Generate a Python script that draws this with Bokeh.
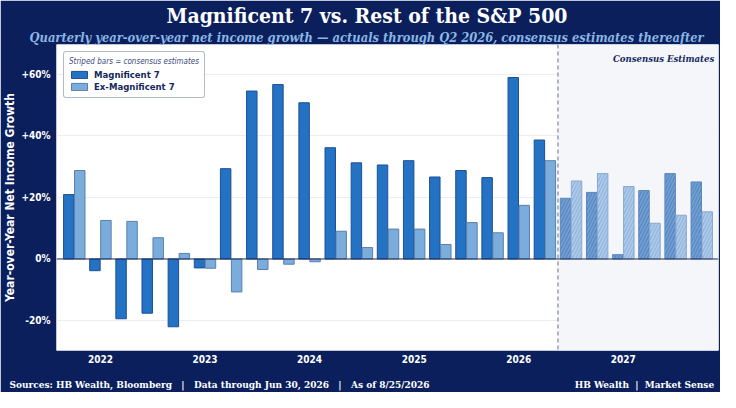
from bokeh.plotting import figure
from bokeh.models import (ColumnDataSource, Range1d, FixedTicker, Span, BoxAnnotation,
                          Label, Legend, LegendItem, Title, LinearAxis)
from bokeh.transform import dodge
from bokeh.embed import file_html
from bokeh.resources import INLINE

# Quarterly YoY net income growth (%), actuals through Q2 2026, estimates after
quarters = ["Q4 2021",
            "Q1 2022", "Q2 2022", "Q3 2022", "Q4 2022",
            "Q1 2023", "Q2 2023", "Q3 2023", "Q4 2023",
            "Q1 2024", "Q2 2024", "Q3 2024", "Q4 2024",
            "Q1 2025", "Q2 2025", "Q3 2025", "Q4 2025",
            "Q1 2026", "Q2 2026", "Q3 2026", "Q4 2026",
            "Q1 2027", "Q2 2027", "Q3 2027", "Q4 2027"]
mag7 = [20.9, -3.8, -19.4, -17.6, -22.0, -2.9, 29.3, 54.5, 56.6, 50.7, 36.1, 31.2, 30.5,
        31.9, 26.6, 28.7, 26.4, 58.9, 38.6, 19.7, 21.6, 1.4, 22.2, 27.7, 25.0]
ex_mag7 = [28.7, 12.5, 12.2, 6.9, 1.8, -3.0, -10.7, -3.4, -1.7, -0.9, 9.0, 3.7, 9.7,
           9.7, 4.7, 11.8, 8.5, 17.4, 31.9, 25.3, 27.7, 23.5, 11.6, 14.2, 15.3]
n_actual = 19  # Q4 2021 .. Q2 2026
y_ticks = [-20, 0, 20, 40, 60]

NAVY = "#0b1f5c"
MAG = "#2372c4"
EX = "#7aaddb"
SANS = "DejaVu Sans Condensed"
SERIF = "DejaVu Serif Condensed"
SEP = "\u00a0\u00a0\u00a0|\u00a0\u00a0\u00a0"

pos = list(range(len(quarters)))
year_ticks = [i for i, q in enumerate(quarters) if q.startswith("Q1")]
year_labels = {i: quarters[i].split()[1] for i in year_ticks}

act = ColumnDataSource(dict(x=pos[:n_actual], mag=mag7[:n_actual], ex=ex_mag7[:n_actual]))
est = ColumnDataSource(dict(x=pos[n_actual:], mag=mag7[n_actual:], ex=ex_mag7[n_actual:]))

FW = 720 - 56 - 2
p = figure(width=720, height=392, output_backend="svg", toolbar_location=None,
           x_range=Range1d(-0.68, len(quarters) - 0.36), y_range=Range1d(-29.7, 69.6),
           min_border_left=56, min_border_right=2, min_border_top=0, min_border_bottom=0)
p.border_fill_color = NAVY
p.background_fill_color = "white"
p.outline_line_color = None

# estimate zone
p.add_layout(BoxAnnotation(left=n_actual - 0.5, fill_color="#f5f6f9", fill_alpha=1,
                           line_color=None, level="underlay"))

p.xgrid.grid_line_color = None
p.ygrid.grid_line_color = "#ececf1"
p.ygrid.ticker = FixedTicker(ticks=y_ticks)

off, w = 0.21, 0.4
r_mag = p.vbar(x=dodge("x", -off), top="mag", source=act, width=w, fill_color=MAG,
               line_color="#1d4f94", line_width=1)
r_ex = p.vbar(x=dodge("x", off), top="ex", source=act, width=w, fill_color=EX,
              line_color="#5b7fae", line_width=1)
p.vbar(x=dodge("x", -off), top="mag", source=est, width=w, fill_color="#74a3d7",
       line_color="#5d86bd", line_width=1, hatch_pattern="/", hatch_color="#34609e",
       hatch_scale=6.5, hatch_weight=0.8, hatch_alpha=0.85)
p.vbar(x=dodge("x", off), top="ex", source=est, width=w, fill_color="#b2cdeb",
       line_color="#86a8d3", line_width=1, hatch_pattern="/", hatch_color="#6a94c9",
       hatch_scale=6.5, hatch_weight=0.8, hatch_alpha=0.85)

p.add_layout(Span(location=0, dimension="width", line_color="#1e2b55", line_width=1.2))
p.add_layout(Span(location=n_actual - 0.5, dimension="height", line_color="#7c86a3",
                  line_width=1.2, line_dash="4 3"))

p.add_layout(Label(x=len(quarters) - 0.52, y=65, text="Consensus Estimates",
                   text_align="right", text_baseline="middle", text_color="#14285e",
                   text_font=SERIF, text_font_style="bold italic", text_font_size="9.5px"))

# axes
p.yaxis.ticker = FixedTicker(ticks=y_ticks)
p.yaxis.major_label_overrides = {t: (f"+{t}%" if t > 0 else f"{t}%") for t in y_ticks}
p.yaxis.axis_label = "Year-over-Year Net Income Growth"
p.xaxis.ticker = FixedTicker(ticks=year_ticks)
p.xaxis.major_label_overrides = year_labels
for ax in (p.xaxis, p.yaxis):
    ax.axis_line_color = None
    ax.major_tick_out = 0
    ax.minor_tick_out = 0
    ax.major_tick_line_color = None
    ax.minor_tick_line_color = None
    ax.major_label_text_color = "white"
    ax.major_label_text_font = SANS
    ax.major_label_text_font_style = "bold"
    ax.major_label_text_font_size = "10px"
p.xaxis.major_label_standoff = 4
p.xaxis.axis_label_standoff = 0
p.yaxis.major_label_standoff = 6
p.yaxis.axis_label_text_color = "white"
p.yaxis.axis_label_text_font = SANS
p.yaxis.axis_label_text_font_style = "bold"
p.yaxis.axis_label_text_font_size = "12px"
p.yaxis.axis_label_standoff = 1

# footer as a second bottom axis (positions in frame pixels)
footer_texts = {163: "Sources: HB Wealth, Bloomberg" + SEP + "Data through Jun 30, 2026" + SEP + "As of 8/25/2026",
                588: "HB Wealth\u00a0\u00a0|\u00a0\u00a0Market Sense"}
p.extra_x_ranges = {"footer": Range1d(0, FW)}
foot = LinearAxis(x_range_name="footer", ticker=FixedTicker(ticks=list(footer_texts)),
                  major_label_overrides=footer_texts)
foot.axis_line_color = None
foot.major_tick_out = 0
foot.minor_tick_out = 0
foot.major_tick_line_color = None
foot.minor_tick_line_color = None
foot.major_label_text_color = "white"
foot.major_label_text_font = SERIF
foot.major_label_text_font_style = "bold"
foot.major_label_text_font_size = "10px"
foot.major_label_standoff = 13
foot.axis_label_standoff = 0
p.add_layout(foot, "below")

legend = Legend(items=[LegendItem(label="Magnificent 7", renderers=[r_mag]),
                       LegendItem(label="Ex-Magnificent 7", renderers=[r_ex])],
                location="top_left", title="Striped bars = consensus estimates")
legend.margin = 7
legend.padding = 5
legend.spacing = 1
legend.glyph_width = 20
legend.glyph_height = 9
legend.label_height = 11
legend.label_text_font = SANS
legend.label_text_font_style = "bold"
legend.label_text_font_size = "9.5px"
legend.label_text_color = "#14285e"
legend.title_text_font = SANS
legend.title_text_font_style = "italic"
legend.title_text_font_size = "8px"
legend.title_text_color = "#3a4a7a"
legend.title_standoff = 3
legend.border_line_color = "#6a7598"
legend.border_line_width = 1
legend.border_radius = 3
legend.background_fill_alpha = 1
p.add_layout(legend)

sub = Title(text="Quarterly year-over-year net income growth \u2014 actuals through Q2 2026, consensus estimates thereafter",
            align="left", offset=-27, text_color="#8ab6e4", text_font=SERIF,
            text_font_style="bold italic", text_font_size="12.8px", standoff=0)
p.add_layout(sub, "above")
ttl = Title(text="Magnificent 7 vs. Rest of the S&P 500", align="left", offset=110,
            text_color="white", text_font=SERIF, text_font_style="bold",
            text_font_size="21px", standoff=0)
p.add_layout(ttl, "above")

open("out.html", "w").write(file_html(p, INLINE))
